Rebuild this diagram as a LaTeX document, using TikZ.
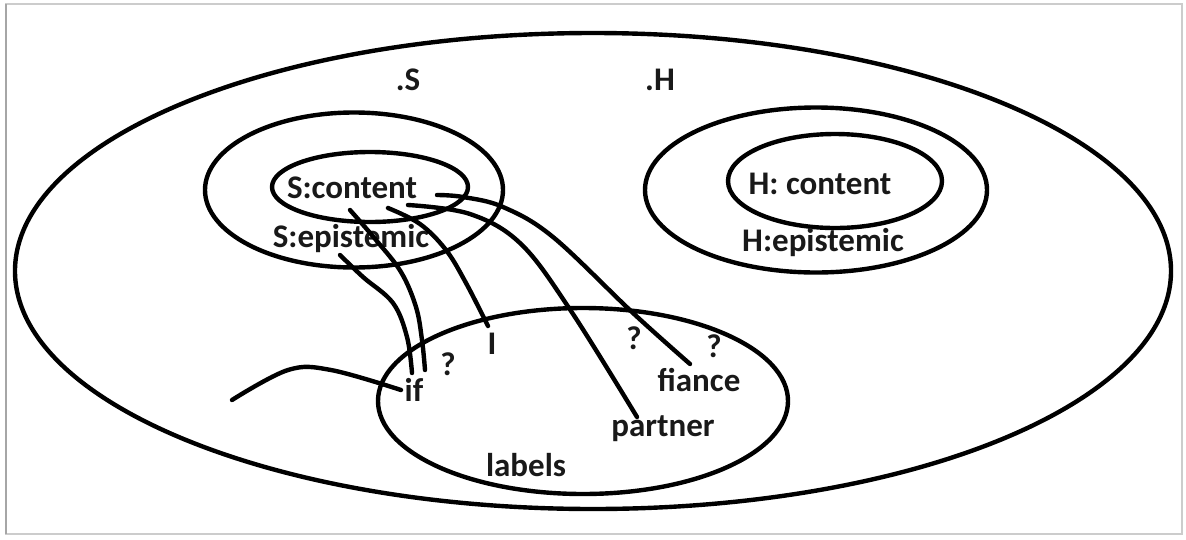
\documentclass[tikz,border=0pt]{standalone}
\usepackage{fontspec}
\setmainfont{Carlito}
\usetikzlibrary{shapes.geometric}
\begin{document}
\begin{tikzpicture}[x=1pt,y=-1pt,
  ring/.style={draw=black,line width=4.4pt,ellipse,inner sep=0pt},
  lbl/.style={font=\bfseries\fontsize{33}{35}\selectfont,inner sep=0pt,text=black!90},
  wire/.style={draw=black,line width=4.4pt,line cap=round}]
\useasboundingbox (0,0) rectangle (1186,539);
\fill[white] (0,0) rectangle (1186,539);
\draw[black!20,line width=1.2pt] (6,4) rectangle (1182,534);
\draw[black!35,line width=2.5pt] (6,4) -- (6,534);
% ellipses
\node[ring,minimum width=1156pt,minimum height=476pt] (world) at (593,271) {};
\node[ring,minimum width=298pt,minimum height=155pt] (sepi) at (354,190) {};
\node[ring,minimum width=196pt,minimum height=70pt] (scon) at (370,187) {};
\node[ring,minimum width=342pt,minimum height=165pt] (hepi) at (816,190) {};
\node[ring,minimum width=214pt,minimum height=94pt] (hcon) at (835,181) {};
\node[ring,minimum width=410pt,minimum height=186pt] (labs) at (583,401) {};
% texts
\node[lbl] (tS) at (408,80) {.S};
\node[lbl] (tH) at (660,80) {.H};
\node[lbl] (tscon) at (352,188) {S:content};
\node[lbl] (tsepi) at (351,239) {S:epistemic};
\node[lbl] (thcon) at (820,184) {H: content};
\node[lbl] (thepi) at (823,243) {H:epistemic};
\node[lbl] (tif) at (414,390) {if};
\node[lbl] (q1) at (448,364) {?};
\node[lbl] (tI) at (492,344) {I};
\node[lbl] (q2) at (634,338) {?};
\node[lbl] (q3) at (714,346) {?};
\node[lbl] (tfi) at (699,380) {fiance};
\node[lbl] (tpa) at (663,429) {partner};
\node[lbl] (tla) at (526,465) {labels};
% connector ends
\coordinate (a1) at (340,255);
\coordinate (a2) at (350,210);
\coordinate (a3) at (388,208);
\coordinate (a4) at (408,205);
\coordinate (a5) at (437,195);
\coordinate (a6) at (232,400);
\coordinate (b1) at (412,373);
\coordinate (b2) at (425,370);
\coordinate (b3) at (488,326);
\coordinate (b4) at (637,417);
\coordinate (b5) at (690,364);
\coordinate (b6) at (401,390);
% connectors
\draw[wire] plot[smooth,tension=0.6] coordinates {(a1) (363,277) (393,303) (407,337) (b1)};
\draw[wire] plot[smooth,tension=0.6] coordinates {(a2) (376,240) (401,272) (416,307) (422,340) (b2)};
\draw[wire] plot[smooth,tension=0.6] coordinates {(a3) (420,224) (446,250) (466,283) (b3)};
\draw[wire] plot[smooth,tension=0.6] coordinates {(a4) (470,214) (521,244) (571,311) (b4)};
\draw[wire] plot[smooth,tension=0.6] coordinates {(a5) (463,197) (503,207) (553,237) (633,313) (b5)};
\draw[wire] plot[smooth,tension=0.6] coordinates {(a6) (288,370) (331,370) (b6)};
\end{tikzpicture}
\end{document}
